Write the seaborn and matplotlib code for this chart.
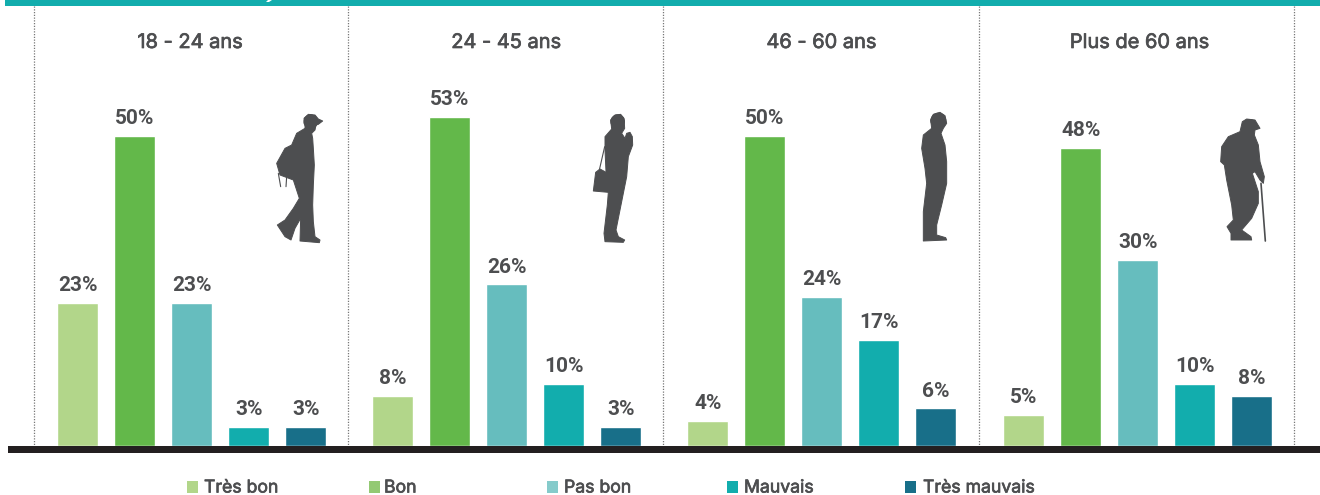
import matplotlib
matplotlib.use("Agg")
import matplotlib.pyplot as plt
import matplotlib.patheffects as pe
from matplotlib.patches import Polygon, Rectangle, Circle
import pandas as pd
import seaborn as sns

groups = ["18 - 24 ans", "24 - 45 ans", "46 - 60 ans", "Plus de 60 ans"]
categories = ["Très bon", "Bon", "Pas bon", "Mauvais", "Très mauvais"]
v_18_24 = [23, 50, 23, 3, 3]
v_24_45 = [8, 53, 26, 10, 3]
v_46_60 = [4, 50, 24, 17, 6]
v_60_plus = [5, 48, 30, 10, 8]
all_values = [v_18_24, v_24_45, v_46_60, v_60_plus]
bar_colors = ["#B2D68A", "#63B84A", "#66BDBE", "#12ADAD", "#186F89"]
legend_colors = ["#B2D68A", "#93C973", "#85CBCB", "#12ADAD", "#186F89"]

W, H = 1320, 495
DARK = "#4D4E50"
sns.set_theme(style="white")
plt.rcParams["font.family"] = ["Inter", "DejaVu Sans"]
fig = plt.figure(figsize=(W / 100, H / 100), dpi=100, facecolor="white")

baseline = 445.5
px_per_pct = 6.2
first_centers = [77.7, 392.7, 707.7, 1023.7]
step = 57
for g, vals, c0 in zip(groups, all_values, first_centers):
    left = c0 - step / 2
    ax = fig.add_axes([left / W, (H - baseline) / H, 5 * step / W, baseline / H])
    df = pd.DataFrame({"cat": categories, "val": vals})
    sns.barplot(data=df, x="cat", y="val", hue="cat", order=categories, hue_order=categories,
                palette=bar_colors, width=0.71, legend=False, saturation=1, ax=ax, dodge=False)
    ax.set_xlim(-0.5, 4.5)
    ax.set_ylim(0, baseline / px_per_pct)
    ax.axis("off")
    for cont in ax.containers:
        ax.bar_label(cont, fmt="%d%%", padding=5.5, fontsize=15, fontweight="bold",
                     family="Roboto", color=DARK)

ov = fig.add_axes([0, 0, 1, 1], zorder=10)
ov.set_xlim(0, W)
ov.set_ylim(H, 0)
ov.axis("off")
ov.patch.set_alpha(0)

ov.add_patch(Rectangle((5, -1), W, 7, color="#12ADAD", lw=0))
ov.add_patch(Polygon([(268, 0), (272, 0), (269, 2), (266, 2)], color="white", lw=0))
ov.add_patch(Rectangle((8, 445.5), W, 7.7, color="#231F20", lw=0))
for x in [33.7, 347.7, 662.5, 979, 1293.7]:
    ov.plot([x, x], [6, 445], color="#777777", lw=0.9, ls=(0, (1, 1.2)))

heavy = [pe.withStroke(linewidth=0.5, foreground=DARK)]
for x, g in zip([190, 506, 821.5, 1139.5], groups):
    ov.text(x, 43, g, ha="center", va="center", fontsize=14.4, color=DARK, path_effects=heavy)

leg_sq = [187, 369, 547, 727, 905]
leg_tx = [204, 384, 564, 744, 923]
for sx, tx, c, t in zip(leg_sq, leg_tx, legend_colors, categories):
    ov.add_patch(Rectangle((sx, 481), 11, 12, color=c, lw=0))
    ov.text(tx, 488, t, ha="left", va="center", fontsize=12.7, color=DARK, path_effects=heavy)


def fig_shape(ox, oy, pts, color=DARK):
    ov.add_patch(Polygon([(ox + a / 3, oy + b / 3) for a, b in pts], closed=True,
                         facecolor=color, edgecolor=color, lw=0.7, joinstyle="round"))


def head(ox, oy, cx, cy, r):
    ov.add_patch(Circle((ox + cx / 3, oy + cy / 3), r / 3, color=DARK, lw=0))


# Walking figure with backpack
fig_shape(260, 105, [(132, 40), (145, 28), (165, 30), (175, 42), (188, 48), (175, 58), (168, 60),
                     (165, 75), (155, 85), (158, 100), (160, 130), (163, 180), (160, 240), (158, 300),
                     (160, 350), (165, 395), (180, 405), (178, 413), (120, 408), (122, 340), (105, 370),
                     (93, 405), (75, 395), (52, 360), (75, 345), (100, 310), (118, 280), (100, 225),
                     (60, 210), (50, 175), (75, 130), (95, 120), (110, 85), (135, 70), (135, 55)])
head(260, 105, 152, 50, 22)
ov.plot([260 + 55 / 3, 260 + 62 / 3], [105 + 205 / 3, 105 + 245 / 3], color=DARK, lw=0.8)
ov.plot([260 + 80 / 3, 260 + 78 / 3], [105 + 215 / 3, 105 + 245 / 3], color=DARK, lw=0.8)
# Standing figure with bag
fig_shape(580, 105, [(92, 45), (105, 30), (122, 28), (132, 40), (134, 70), (125, 85), (135, 100),
                     (140, 85), (150, 82), (157, 95), (158, 120), (145, 155), (140, 215), (125, 290),
                     (108, 375), (115, 395), (134, 405), (130, 412), (75, 410), (72, 385), (82, 300),
                     (85, 262), (78, 200), (75, 135), (75, 95), (95, 72)])
head(580, 105, 113, 50, 22)
fig_shape(580, 105, [(47, 202), (60, 192), (84, 205), (85, 262), (40, 258)])
ov.plot([580 + 58 / 3, 580 + 74 / 3], [105 + 195 / 3, 105 + 125 / 3], color=DARK, lw=0.8)
# Standing man
fig_shape(895, 105, [(107, 45), (115, 28), (135, 22), (150, 32), (155, 55), (145, 70), (138, 85),
                     (150, 120), (155, 170), (155, 235), (140, 300), (125, 360), (125, 390), (152, 398),
                     (155, 405), (85, 408), (85, 320), (95, 235), (90, 190), (80, 130), (85, 90), (110, 70)])
head(895, 105, 130, 47, 24)
# Older man with cane
fig_shape(1205, 105, [(112, 50), (125, 42), (150, 45), (165, 70), (150, 75), (148, 90), (160, 120),
                      (165, 170), (178, 215), (175, 235), (165, 225), (150, 200), (142, 205), (160, 260),
                      (160, 295), (140, 340), (110, 375), (138, 395), (140, 405), (78, 405), (78, 385),
                      (66, 365), (85, 345), (80, 300), (65, 225), (58, 180), (47, 170), (50, 125),
                      (70, 95), (105, 80)])
head(1205, 105, 135, 62, 20)
ov.plot([1205 + 168 / 3, 1205 + 181 / 3], [105 + 235 / 3, 105 + 408 / 3], color=DARK, lw=1.2)

fig.savefig("out.png", dpi=100, facecolor="white")
